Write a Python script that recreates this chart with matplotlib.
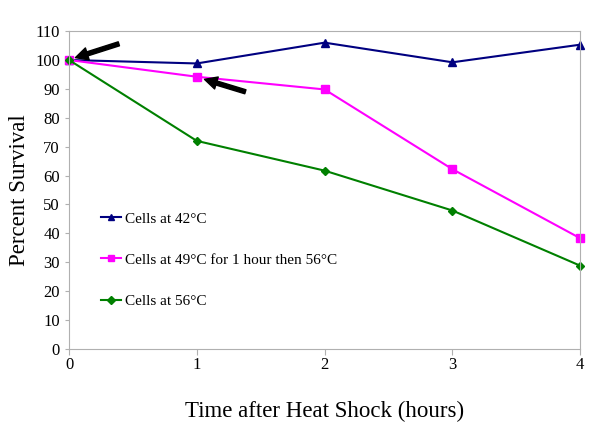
import matplotlib
matplotlib.use('Agg')
import matplotlib.pyplot as plt

hours = [0, 1, 2, 3, 4]
cells_42 = [100, 98.8, 106.0, 99.2, 105.3]
cells_49_56 = [100, 94.2, 89.8, 62.2, 38.3]
cells_56 = [100, 72.0, 61.7, 47.9, 28.8]

plt.rcParams['font.family'] = ['Liberation Serif', 'DejaVu Serif']

fig = plt.figure(figsize=(6, 4.26), dpi=100)
ax = fig.add_axes([0.115, 0.181, 0.852, 0.746])

ax.plot(hours, cells_42, color='#000080', marker='^', markersize=6, lw=1.5,
        label='Cells at 42°C', clip_on=False)
ax.plot(hours, cells_49_56, color='#ff00ff', marker='s', markersize=6, lw=1.5,
        label='Cells at 49°C for 1 hour then 56°C', clip_on=False)
ax.plot(hours, cells_56, color='#008000', marker='D', markersize=4.5, lw=1.5,
        label='Cells at 56°C', clip_on=False)

# arrows pointing at the first points
arrow = dict(facecolor='black', edgecolor='black', width=3, headwidth=9, headlength=9)
ax.annotate('', xy=(0.05, 100.8), xytext=(0.39, 105.6), arrowprops=arrow)
ax.annotate('', xy=(1.06, 93.3), xytext=(1.38, 89.0), arrowprops=arrow)

ax.set_xlim(0, 4)
ax.set_ylim(0, 110)
ax.set_xticks(hours)
ax.set_yticks(range(0, 111, 10))
for s in ax.spines.values():
    s.set_color('#b0b0b0')
ax.tick_params(axis='x', length=4, color='#b0b0b0', labelsize=12, pad=2)
ax.tick_params(axis='y', length=3, color='#b0b0b0', labelsize=12)

ax.set_xlabel('Time after Heat Shock (hours)', fontsize=16.5, labelpad=20)
ax.set_ylabel('Percent Survival', fontsize=16.5, labelpad=4)

ax.legend(loc='center left', bbox_to_anchor=(0.035, 0.28), frameon=False, fontsize=11,
          labelspacing=1.8, handlelength=1.3, handletextpad=0.3, markerscale=0.8)

fig.savefig('out.png', dpi=100)
